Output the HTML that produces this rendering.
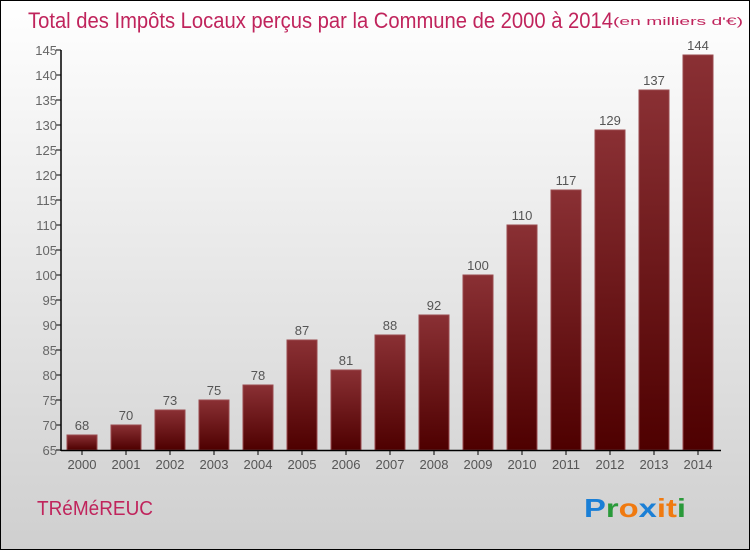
<!DOCTYPE html>
<html><head><meta charset="utf-8"><style>
body{margin:0;width:750px;height:550px;overflow:hidden;font-family:"Liberation Sans",sans-serif}
#c{position:absolute;left:0;top:0;width:748px;height:548px;border:1px solid #000;background:linear-gradient(#fff,#cfcfcf)}
</style></head><body>
<div id="c">
<svg id="s" width="748" height="548" xmlns="http://www.w3.org/2000/svg">
<defs><linearGradient id="g" x1="0" y1="0" x2="0" y2="1"><stop offset="0" stop-color="#8a3034"/><stop offset="1" stop-color="#4e0000"/></linearGradient></defs>
<text x="27" y="27" font-size="22" fill="#c0245c" textLength="585" lengthAdjust="spacingAndGlyphs">Total des Impôts Locaux perçus par la Commune de 2000 à 2014</text>
<text x="612" y="24" font-size="11" fill="#c0245c" textLength="130" lengthAdjust="spacingAndGlyphs">(en milliers d'€)</text>
<text x="36" y="514" font-size="20" fill="#c0245c" textLength="116" lengthAdjust="spacingAndGlyphs">TRéMéREUC</text>
<text x="583" y="516" font-size="26" font-weight="bold" textLength="102" lengthAdjust="spacingAndGlyphs"><tspan fill="#1a7fd6">P</tspan><tspan fill="#2a9a3a">r</tspan><tspan fill="#f07a10">o</tspan><tspan fill="#1a7fd6">x</tspan><tspan fill="#f07a10">i</tspan><tspan fill="#f07a10">t</tspan><tspan fill="#2a9a3a">i</tspan></text>
<g id="plot"></g>
</svg></div>
<script>
const years=["2000","2001","2002","2003","2004","2005","2006","2007","2008","2009","2010","2011","2012","2013","2014"];
const values=[68,70,73,75,78,87,81,88,92,100,110,117,129,137,144];
const yTicks=[65,70,75,80,85,90,95,100,105,110,115,120,125,130,135,140,145];
const NS="http://www.w3.org/2000/svg",p=document.getElementById('plot');
const y=v=>449-(v-65)*5, x=i=>81+i*44;
function mk(t,a){const e=document.createElementNS(NS,t);for(const k in a)e.setAttribute(k,a[k]);p.appendChild(e);return e;}
yTicks.forEach(v=>{
const l=mk('line',{x1:55,x2:60,y1:y(v),y2:y(v),stroke:'#000'});


const t=mk('text',{x:56,y:y(v)+5,'text-anchor':'end','font-size':13,fill:'#666'});t.textContent=v;


});
values.forEach((v,i)=>{
const r=mk('rect',{x:x(i)-15,y:y(v),width:30,height:y(65)-y(v),fill:'url(#g)',stroke:'#9a4a4e','stroke-width':1});


const t=mk('text',{x:x(i),y:y(v)-5,'text-anchor':'middle','font-size':13,fill:'#555'});t.textContent=v;


const k=mk('line',{x1:x(i),x2:x(i),y1:449,y2:454,stroke:'#000'});


const xl=mk('text',{x:x(i),y:468,'text-anchor':'middle','font-size':13,fill:'#555'});xl.textContent=years[i];


});
const ya=mk('line',{x1:60,x2:60,y1:y(145),y2:450,stroke:'#000','stroke-width':1.5});


const xa=mk('line',{x1:60,x2:720,y1:449.5,y2:449.5,stroke:'#000','stroke-width':1.5});


</script>
</body></html>
